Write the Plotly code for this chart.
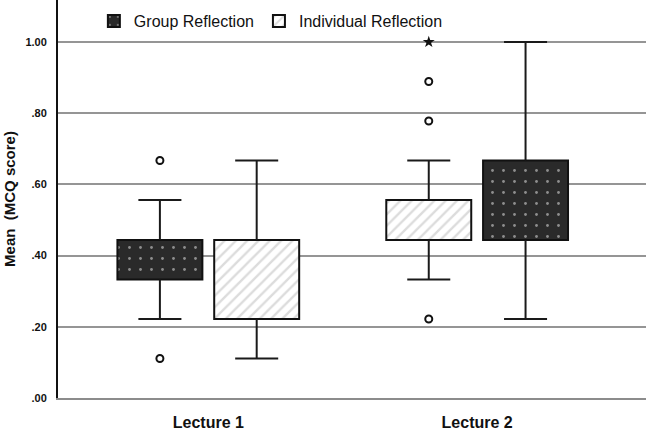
import plotly.graph_objects as go

# ---------------- data ----------------
lectures = ["Lecture 1", "Lecture 2"]
y_tick_vals = [0.0, 0.2, 0.4, 0.6, 0.8, 1.0]
y_tick_text = [".00", ".20", ".40", ".60", ".80", "1.00"]

group_q1 = [0.333, 0.444]
group_q3 = [0.444, 0.667]
group_low = [0.222, 0.222]
group_high = [0.556, 1.000]
group_outliers = [[0.667, 0.111], []]
group_extremes = [[], []]

individual_q1 = [0.222, 0.444]
individual_q3 = [0.444, 0.556]
individual_low = [0.111, 0.333]
individual_high = [0.667, 0.667]
individual_outliers = [[], [0.778, 0.889, 0.222]]
individual_extremes = [[], [1.000]]

# ---------------- style ----------------
FONT = "Arial, Liberation Sans, Helvetica, sans-serif"
BOX_W = 0.316
CAP_W = 0.16
series = [
    dict(name="Group Reflection", q1=group_q1, q3=group_q3, low=group_low, high=group_high,
         out=group_outliers, ext=group_extremes, offsets=[-0.18, 0.18],
         pattern=dict(shape=".", bgcolor="#2a2a2a", fgcolor="#f2f2f2", size=11, solidity=0.05,
                      fillmode="overlay"),
         color="#2a2a2a"),
    dict(name="Individual Reflection", q1=individual_q1, q3=individual_q3, low=individual_low,
         high=individual_high, out=individual_outliers, ext=individual_extremes, offsets=[0.18, -0.18],
         pattern=dict(shape="/", bgcolor="white", fgcolor="#b9b9b9", size=8, solidity=0.3,
                      fillmode="overlay"),
         color="white"),
]

fig = go.Figure()

for s in series:
    # whiskers
    wx, wy = [], []
    for i in range(len(lectures)):
        c = i + s["offsets"][i]
        wx += [c, c, None, c, c, None, c - CAP_W / 2, c + CAP_W / 2, None, c - CAP_W / 2, c + CAP_W / 2, None]
        wy += [s["q3"][i], s["high"][i], None, s["low"][i], s["q1"][i], None,
               s["high"][i], s["high"][i], None, s["low"][i], s["low"][i], None]
    fig.add_trace(go.Scatter(x=wx, y=wy, mode="lines", line=dict(color="#1a1a1a", width=2),
                             showlegend=False, hoverinfo="skip"))

for s in series:
    xs = [i + s["offsets"][i] for i in range(len(lectures))]
    fig.add_trace(go.Bar(
        x=xs, y=[q3 - q1 for q1, q3 in zip(s["q1"], s["q3"])], base=s["q1"], width=BOX_W,
        name=s["name"],
        marker=dict(color=s["color"], pattern=s["pattern"], line=dict(color="#111111", width=2)),
    ))

for s in series:
    ox, oy, ex, ey = [], [], [], []
    for i in range(len(lectures)):
        c = i + s["offsets"][i]
        for v in s["out"][i]:
            ox.append(c); oy.append(v)
        for v in s["ext"][i]:
            ex.append(c); ey.append(v)
    if ox:
        fig.add_trace(go.Scatter(x=ox, y=oy, mode="markers", showlegend=False,
                                 marker=dict(symbol="circle-open", size=7, color="#111",
                                             line=dict(width=2, color="#111"))))
    if ex:
        fig.add_trace(go.Scatter(x=ex, y=ey, mode="markers", showlegend=False,
                                 marker=dict(symbol="star", size=9, color="#111")))

fig.update_layout(
    width=646, height=434,
    margin=dict(l=58, r=0, t=0, b=36),
    paper_bgcolor="white", plot_bgcolor="white",
    font=dict(family=FONT, color="#111"),
    barmode="overlay",
    legend=dict(orientation="h", x=0.061, y=0.99, xanchor="left", yanchor="top",
                font=dict(size=16, family=FONT, color="#111"), bgcolor="rgba(0,0,0,0)",
                traceorder="normal", itemwidth=30),
    xaxis=dict(range=[-0.559, 1.628], tickvals=[0, 1], ticktext=[f"<b>{t}</b>" for t in lectures],
               tickfont=dict(size=16, family=FONT, color="#111"), showgrid=False, zeroline=False,
               showline=True, linecolor="#8c8c8c", linewidth=1.5, ticks="", ticklabelstandoff=9),
    yaxis=dict(range=[0, 1.118], tickvals=y_tick_vals, ticktext=[f"<b>{t}</b>" for t in y_tick_text],
               tickfont=dict(size=11, family=FONT, color="#111"), showgrid=True, gridcolor="#959595",
               gridwidth=1.5, zeroline=False, showline=True, linecolor="#111", linewidth=2,
               ticks="", ticklabelstandoff=7,
               title=dict(text="<b>Mean  (MCQ score)</b>", font=dict(size=15, family=FONT, color="#111"),
                          standoff=6)),
)

fig.write_html("out.html")
